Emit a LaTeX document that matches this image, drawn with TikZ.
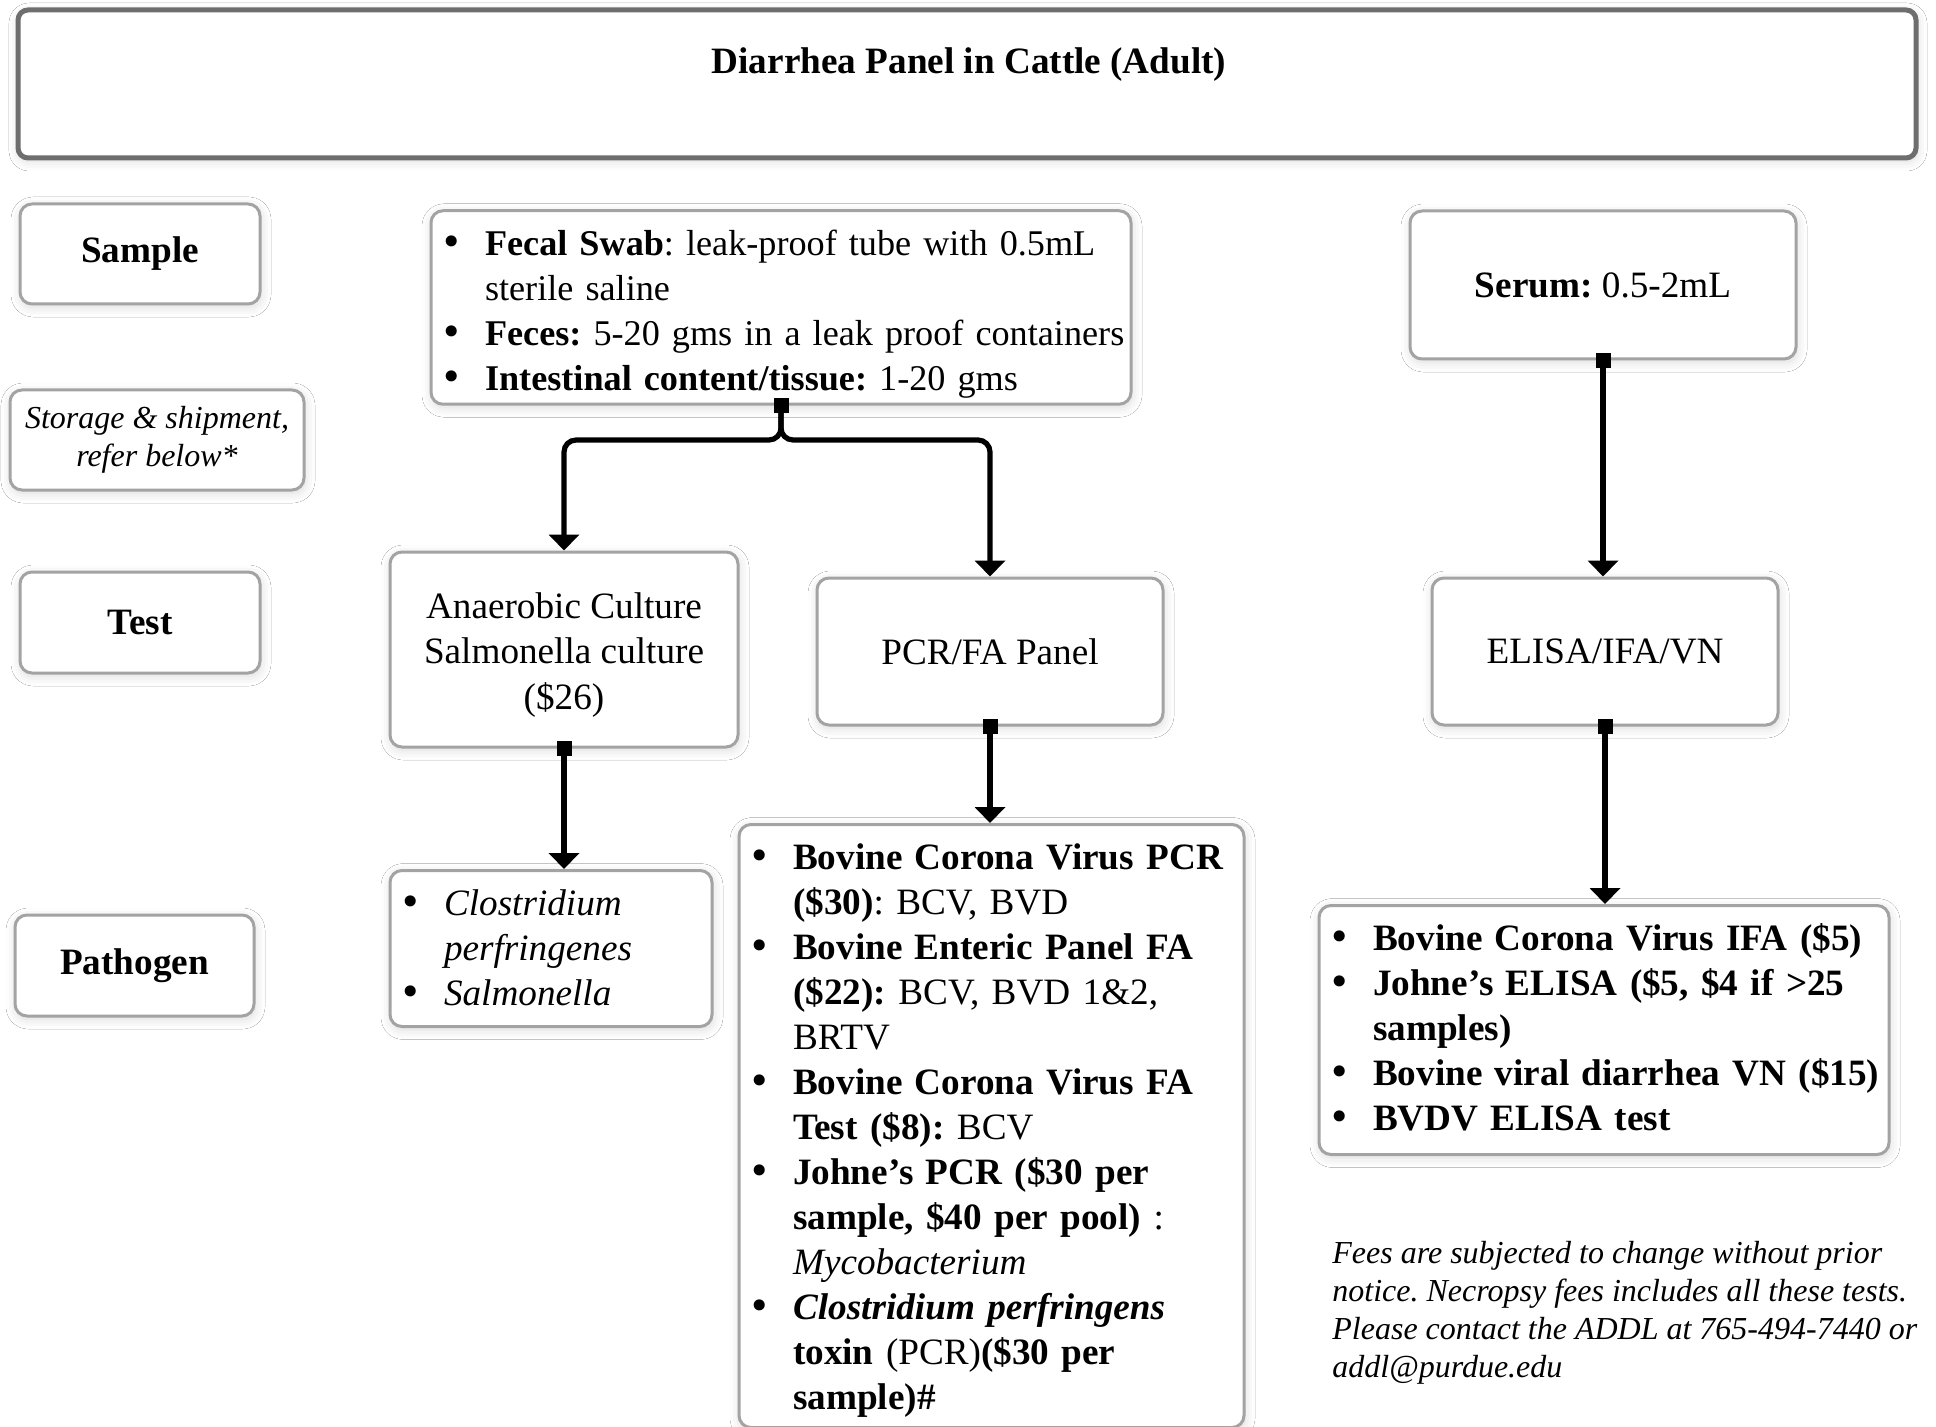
\documentclass[tikz,border=0pt]{standalone}
\usepackage{fontspec}
\setmainfont{Liberation Serif}
\newfontfamily\bulfont{DejaVu Sans}
\usetikzlibrary{arrows.meta,shadows.blur,calc}

\definecolor{boxgray}{HTML}{A3A3A3}
\definecolor{titlegray}{HTML}{6E6E6E}

\newcommand{\fs}{\fontsize{18.6pt}{22.5pt}\selectfont\frenchspacing}
\newcommand{\fn}{\fontsize{16pt}{19pt}\selectfont\frenchspacing}
\newcommand{\bigbullet}{{\bulfont\fontsize{19pt}{19pt}\selectfont •}}
\newcommand{\bl}[1]{\par\noindent\makebox[22.5pt][l]{\bigbullet}\mbox{\strut#1}}
\newcommand{\cl}[1]{\par\noindent\hspace*{22.5pt}\mbox{\strut#1}}
\newcommand{\xd}[1]{\rule[-#1]{0pt}{0pt}}

\tikzset{
  box/.style={draw=boxgray, line width=1.5pt, rounded corners=6pt, fill=white,
    blur shadow={shadow xshift=0.5pt, shadow yshift=-1.5pt, shadow blur radius=5pt, shadow opacity=15},
    font=\fs, align=center, inner sep=0pt},
  listbox/.style={box, align=left, inner xsep=4.5pt, inner ysep=0pt},
  conn/.style={line width=2.6pt, {Square[length=7.5pt,width=7.5pt]}-{Triangle[length=8pt,width=15pt]},
    shorten <=-3.75pt},
}

\begin{document}
\begin{tikzpicture}[x=0.5pt,y=-0.5pt]
\fill[white] (0,0) rectangle (1936,1427);
\useasboundingbox (0,0) rectangle (1936,1427);

% title
\node[box, draw=titlegray, line width=2.5pt, rounded corners=5pt, minimum width=949pt, minimum height=74pt] (titlebox) at (967,84) {};
\node[font=\fs\bfseries, inner sep=0pt] (title) at (969,65) {Diarrhea Panel in Cattle (Adult)};

% left labels
\node[box, minimum width=120pt, minimum height=50pt] (sample) at (140,254) {\textbf{Sample}};
\node[box, minimum width=147pt, minimum height=50pt, font=\fn\itshape] (storage) at (157,440) {Storage \& shipment,\\refer below*};
\node[box, minimum width=120pt, minimum height=50.5pt] (test) at (140,622.5) {\textbf{Test}};
\node[box, minimum width=119.5pt, minimum height=50.5pt] (pathogen) at (134.5,965.5) {\textbf{Pathogen}};

% samples
\node[listbox, text width=341pt, minimum height=96.5pt, font=\fontsize{18.1pt}{22.5pt}\selectfont\frenchspacing] (samplelist) at (781,307.5) {%
\bl{\textbf{Fecal Swab}: leak-proof tube with 0.5mL}
\cl{sterile saline}
\bl{\textbf{Feces:} 5-20 gms in a leak proof containers}
\bl{\textbf{Intestinal content/tissue:} 1-20 gms}};
\node[box, minimum width=193pt, minimum height=74pt] (serum) at (1603,285) {\textbf{Serum:} 0.5-2mL};

% tests
\node[box, minimum width=174pt, minimum height=97.5pt, font=\fontsize{18.6pt}{22.75pt}\selectfont] (anaerobic) at (564,649.5) {\rule{0pt}{21pt}Anaerobic Culture\\\strut Salmonella culture\\\strut(\$26)};
\node[box, minimum width=173pt, minimum height=73.5pt] (pcr) at (990,651.5) {PCR/FA Panel};
\node[box, minimum width=173pt, minimum height=73.5pt] (elisa) at (1605,651.5) {ELISA/IFA/VN};

% pathogens
\node[listbox, text width=152pt, minimum height=73.5pt] (clos) at (551,948.5) {%
\bl{\textit{Clostridium}}
\cl{\textit{perfringenes}}
\bl{\textit{Salmonella}\xd{10.5pt}}};

\node[listbox, text width=243.5pt, minimum height=298pt] (pcrlist) at (991.5,1126) {%
\bl{\textbf{Bovine Corona Virus PCR}}
\cl{\textbf{(\$30)}: BCV, BVD}
\bl{\textbf{Bovine Enteric Panel FA}}
\cl{\textbf{(\$22):} BCV, BVD 1\&2,}
\cl{BRTV}
\bl{\textbf{Bovine Corona Virus FA}}
\cl{\textbf{Test (\$8):} BCV}
\bl{\textbf{Johne’s PCR (\$30 per}}
\cl{\textbf{sample, \$40 per pool)} :}
\cl{\textit{Mycobacterium}}
\bl{\textbf{\textit{Clostridium perfringens}}}
\cl{\textbf{toxin} (PCR)\textbf{(\$30 per}}
\cl{\textbf{sample)\#}\xd{9pt}}};

\node[listbox, text width=276pt, minimum height=122pt] (rightlist) at (1604,1030) {%
\bl{\textbf{Bovine Corona Virus IFA (\$5)}}
\bl{\textbf{Johne’s ELISA (\$5, \$4 if >25}}
\cl{\textbf{samples)}}
\bl{\textbf{Bovine viral diarrhea VN (\$15)}}
\bl{\textbf{BVDV ELISA test}\xd{12pt}}};

% footnote
\node[font=\fn\itshape, align=left, anchor=west, inner sep=0pt] (note) at (1332,1313) {Fees are subjected to change without prior\\notice. Necropsy fees includes all these tests.\\Please contact the ADDL at 765-494-7440 or\\addl@purdue.edu};

% connectors
\coordinate (split) at (781,440);
\draw[conn, rounded corners=6pt] (samplelist.south) -- (split) -| (anaerobic.north);
\draw[conn, rounded corners=6pt] (samplelist.south) -- (split) -| (pcr.north);
\draw[conn] (serum.south) -- (serum.south |- elisa.north);
\draw[conn] (anaerobic.south) -- (anaerobic.south |- clos.north);
\draw[conn] (pcr.south) -- (pcr.south |- pcrlist.north);
\draw[conn] (elisa.south) -- (elisa.south |- rightlist.north);
\end{tikzpicture}
\end{document}
